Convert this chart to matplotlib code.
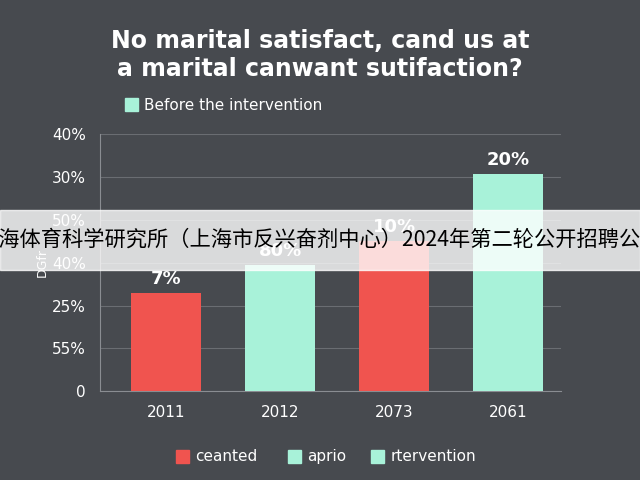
import matplotlib.pyplot as plt
from matplotlib.patches import Rectangle

plt.rcParams['font.family'] = ['DejaVu Sans', 'Noto Sans CJK SC']

years = ['2011', '2012', '2073', '2061']
values = [2.3, 2.95, 3.5, 5.07]
bar_labels = ['7%', '80%', '10%', '20%']
ytick_labels = ['0', '55%', '25%', '40%', '50%', '30%', '40%']
red = '#f0544f'
mint = '#a8f2d9'
colors = [red, mint, red, mint]
bg = '#474a4f'

fig = plt.figure(figsize=(6.4, 4.8), dpi=100, facecolor=bg)
ax = fig.add_axes([0.156, 0.185, 0.72, 0.535], facecolor=bg)

x = range(len(years))
ax.bar(x, values, width=0.61, color=colors, zorder=3)
for i, v in enumerate(values):
    ax.text(i, v + 0.12, bar_labels[i], ha='center', va='bottom', color='white',
            fontsize=13, fontweight='bold', zorder=4)

ax.set_ylim(0, 6)
ax.set_xlim(-0.58, 3.46)
ax.set_yticks(range(7))
ax.set_yticklabels(ytick_labels, color='white', fontsize=11)
ax.set_xticks(list(x))
ax.set_xticklabels(years, color='white', fontsize=11)
ax.tick_params(length=0, pad=10)
ax.grid(axis='y', color='#6a6d72', lw=0.8, zorder=0)
for s in ['top', 'right']:
    ax.spines[s].set_visible(False)
ax.spines['left'].set_color('#8a8d92')
ax.spines['bottom'].set_color('#8a8d92')
ax.set_ylabel('DGfr', color='white', fontsize=9, labelpad=2)

fig.text(0.5, 0.885, 'No marital satisfact, cand us at\na marital canwant sutifaction?',
         ha='center', va='center', color='white', fontsize=17, fontweight='bold',
         linespacing=1.2)

# top legend
fig.patches.append(Rectangle((0.195, 0.768), 0.02, 0.027, color=mint, transform=fig.transFigure))
fig.text(0.225, 0.781, 'Before the intervention', color='white', fontsize=11, va='center')

# bottom legend
items = [('ceanted', red, 0.275), ('aprio', mint, 0.45), ('rtervention', mint, 0.58)]
for name, c, xp in items:
    fig.patches.append(Rectangle((xp, 0.035), 0.02, 0.027, color=c, transform=fig.transFigure))
    fig.text(xp + 0.03, 0.048, name, color='white', fontsize=11, va='center')

# banner overlay
fig.patches.append(Rectangle((0, 0.437), 1, 0.125, color='white', alpha=0.8,
                             transform=fig.transFigure, zorder=10))
fig.text(0.5, 0.5, '上海体育科学研究所（上海市反兴奋剂中心）2024年第二轮公开招聘公告',
         ha='center', va='center', color='black', fontsize=15.3, zorder=11,
         family=['Noto Sans CJK SC', 'DejaVu Sans'])

fig.savefig('out.png', facecolor=bg)
